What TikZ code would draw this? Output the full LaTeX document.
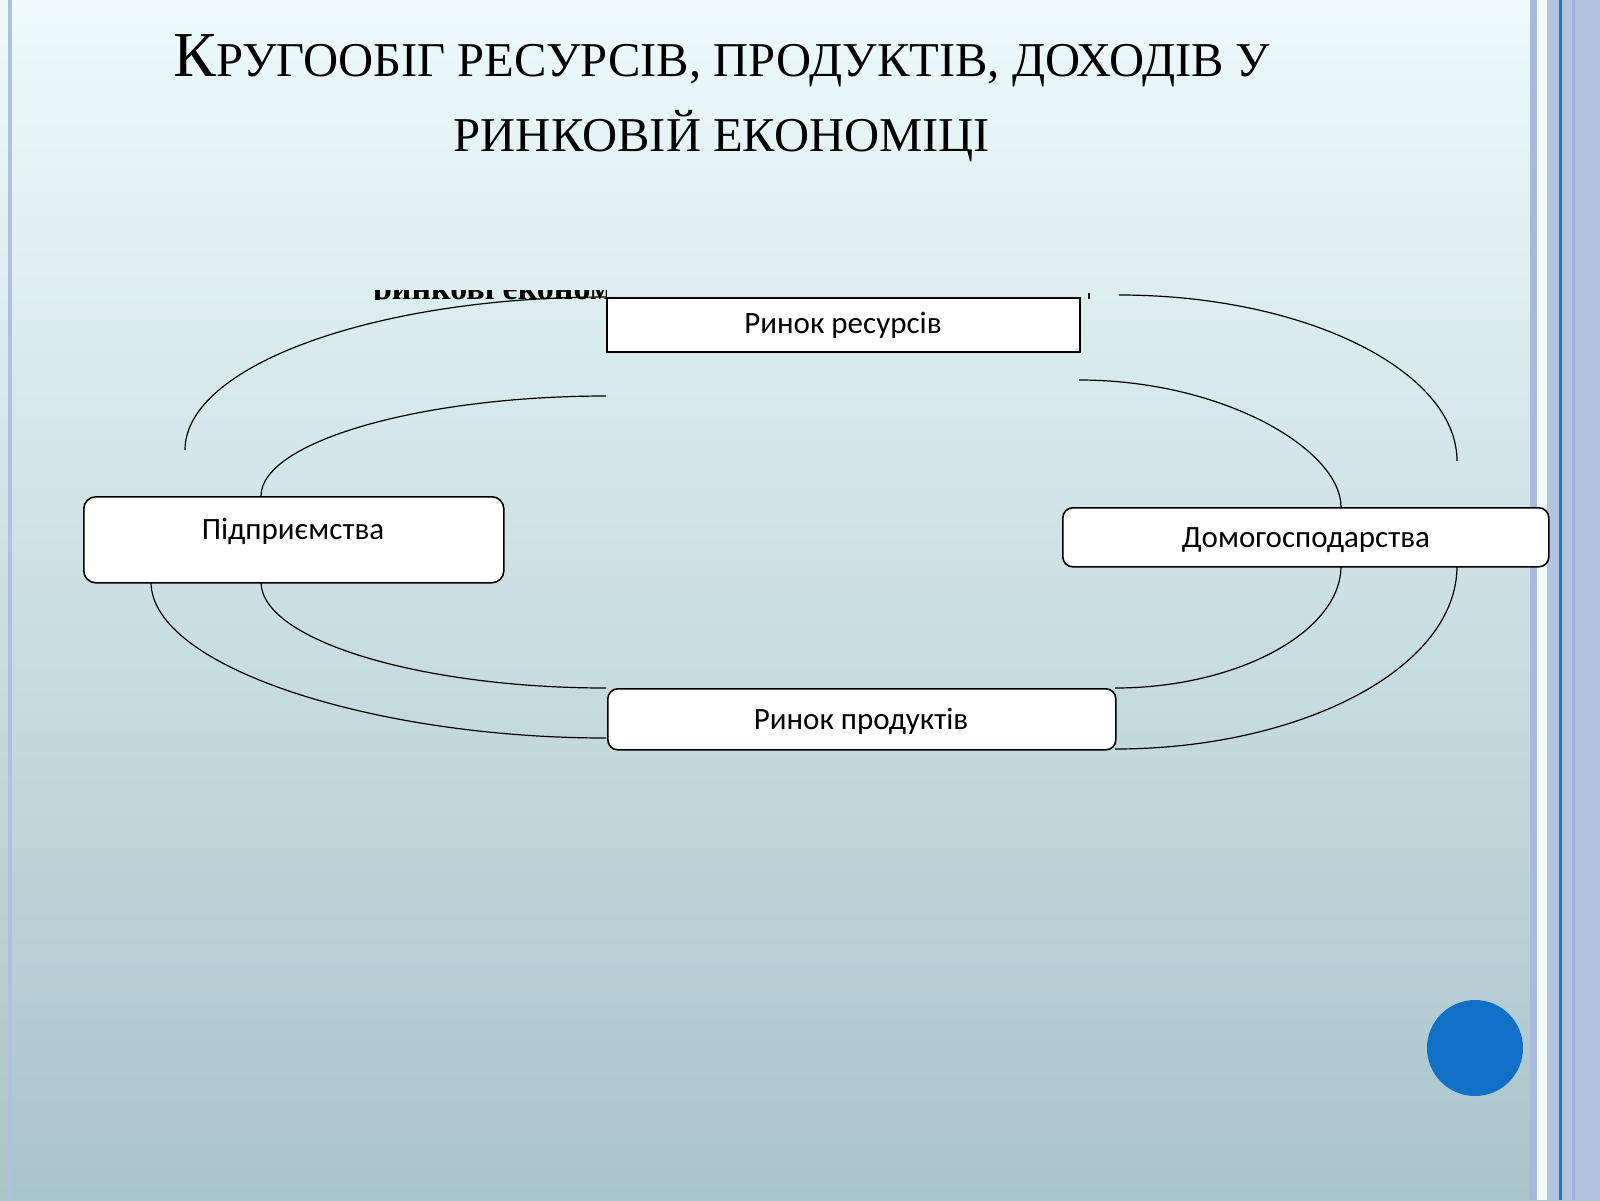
\documentclass[tikz,border=0pt]{standalone}
\usepackage{fontspec}
\setmainfont{Liberation Serif}
\newfontfamily\boxfont{Carlito}
\begin{document}
\begin{tikzpicture}[x=0.5pt,y=-0.5pt,
  box/.style={draw,line width=0.8pt,fill=white,inner sep=0pt,anchor=north west},
  flow/.style={line width=0.6pt},
  lbl/.style={font=\boxfont\fontsize{15.5}{18}\selectfont}]
\useasboundingbox (0,0) rectangle (1600,1200);
\shade[top color={rgb,255:red,238;green,250;blue,252},bottom color={rgb,255:red,168;green,197;blue,202}] (0,0) rectangle (1600,1200);
% borders
\fill[color={rgb,255:red,176;green,192;blue,224}] (8,0) rectangle (12,1200);
\fill[color={rgb,255:red,169;green,185;blue,221}] (1530,0) rectangle (1537,1200);
\fill[color={rgb,255:red,240;green,248;blue,252}] (1537,0) rectangle (1547,1200);
\fill[color={rgb,255:red,176;green,196;blue,224}] (1547,0) rectangle (1600,1200);
\fill[color={rgb,255:red,46;green,111;blue,204}] (1559,0) rectangle (1562,1200);
\fill[color={rgb,255:red,159;green,176;blue,221}] (1572,0) rectangle (1575,1200);
% title
\node[font=\fontsize{24.3}{28}\selectfont] (t1) at (722,61) {{\fontsize{32}{33}\selectfont К}РУГООБІГ РЕСУРСІВ, ПРОДУКТІВ, ДОХОДІВ У};
\node[font=\fontsize{24.3}{28}\selectfont] (t2) at (722,136) {РИНКОВІЙ ЕКОНОМІЦІ};
% clipped leftover text
\begin{scope}
\clip (360,290) rectangle (606,299);
\node[font=\bfseries\fontsize{17}{20}\selectfont,anchor=base west] (lo) at (366,299) {ринкові економіці};
\end{scope}
% curves
\draw[flow] (185,450) .. controls (185,366) and (374,297) .. (606,297);
\draw[flow] (1119,295) .. controls (1306,295) and (1457,371) .. (1457,461);
\draw[flow] (261,496) .. controls (261,442) and (420,396) .. (606,396);
\draw[flow] (1079,380) .. controls (1224,380) and (1341,450) .. (1341,507);
\draw[flow] (261,582) .. controls (261,640) and (420,688) .. (606,688);
\draw[flow] (151,582) .. controls (151,667) and (374,738) .. (606,738);
\draw[flow] (1341,566) .. controls (1341,632) and (1237,688) .. (1115,688);
\draw[flow] (1457,566) .. controls (1457,669) and (1300,749) .. (1115,749);
\draw[flow] (1089,293) -- (1089,299);
% boxes
\node[box,minimum width=236.5pt,minimum height=27pt] (rr) at (606,297) {};
\node[lbl] (rrt) at (843,325) {Ринок ресурсів};
\node[box,rounded corners=6pt,minimum width=210pt,minimum height=43pt] (pd) at (83,496) {};
\node[lbl] (pdt) at (293,531) {Підприємства};
\node[box,rounded corners=5pt,minimum width=243pt,minimum height=29.5pt] (dm) at (1062,507) {};
\node[lbl] (dmt) at (1306,540) {Домогосподарства};
\node[box,rounded corners=5pt,minimum width=254pt,minimum height=30.5pt] (rp) at (607,688) {};
\node[lbl] (rpt) at (861,721) {Ринок продуктів};
% dot
\fill[color={rgb,255:red,16;green,112;blue,200}] (1475,1048) circle (48);
\end{tikzpicture}
\end{document}
